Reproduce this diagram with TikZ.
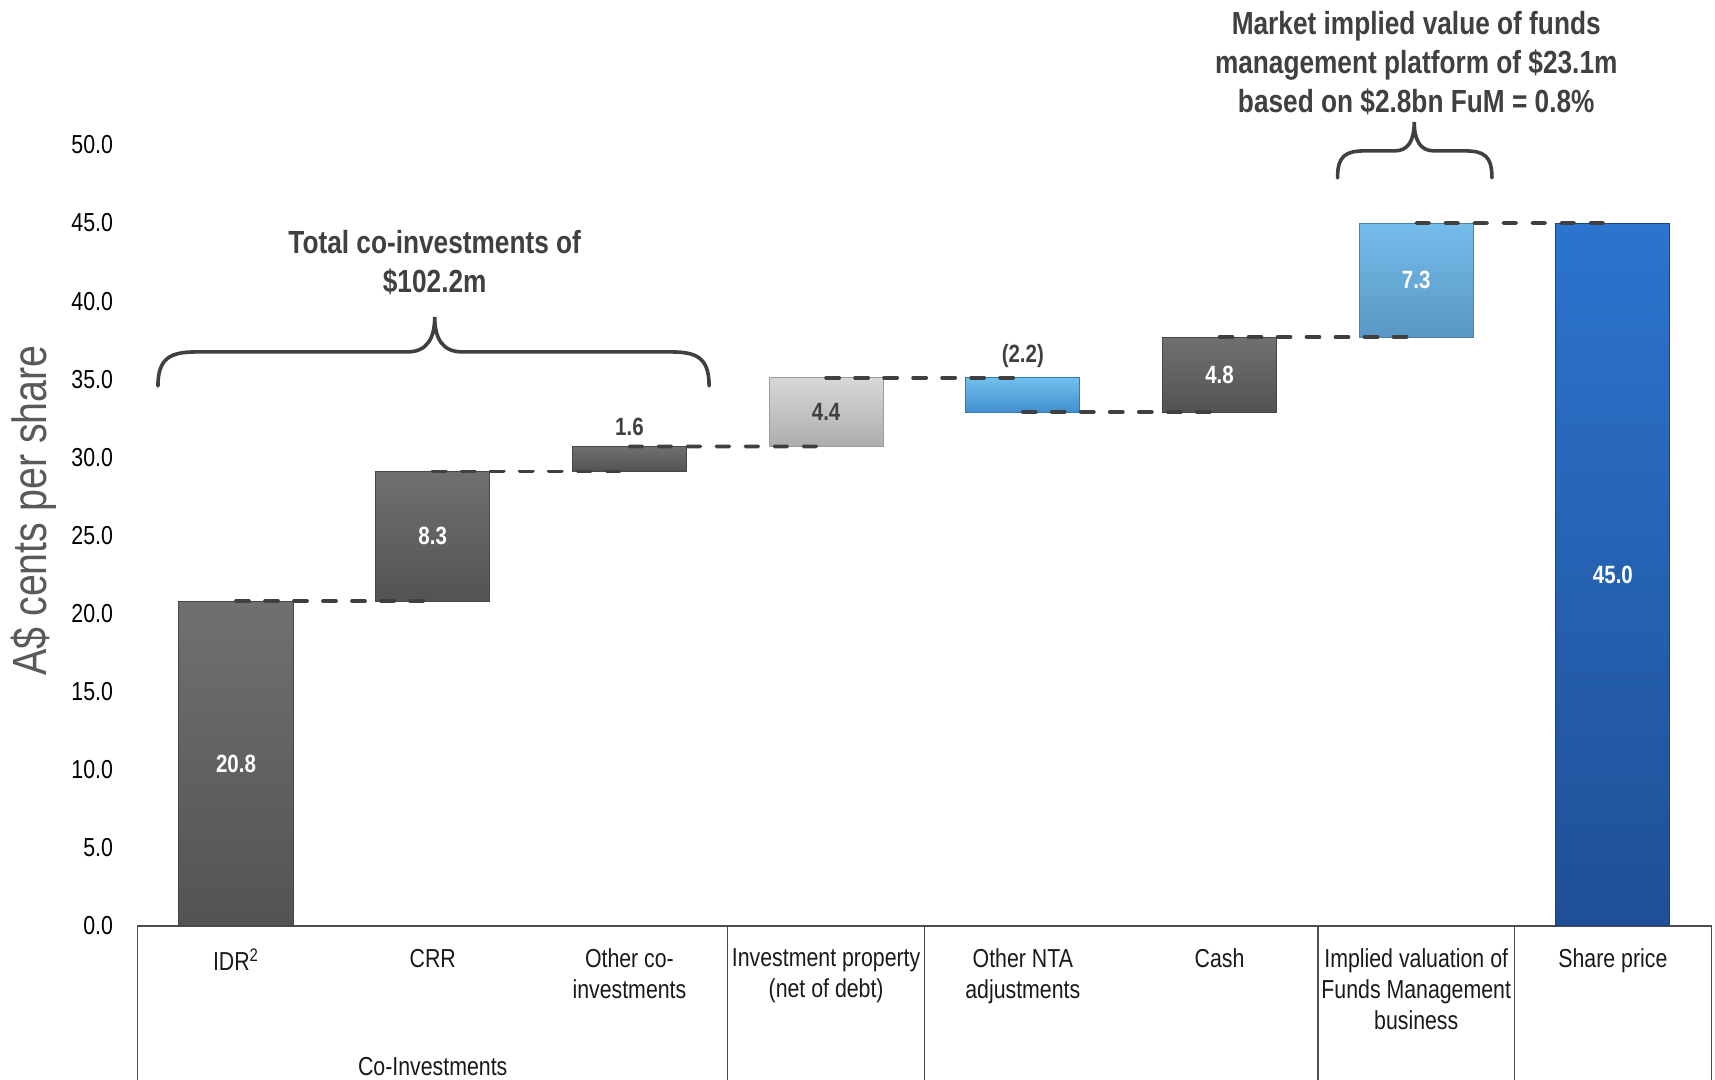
\documentclass[tikz,border=0pt]{standalone}
\usepackage{fontspec}
\setmainfont[FakeStretch=0.82]{Liberation Sans}
\usetikzlibrary{fit,positioning,calc}
\definecolor{wfdark}{HTML}{404040}
\definecolor{wftext}{HTML}{1A1A1A}
\definecolor{wftitle}{HTML}{595959}
\definecolor{wfline}{HTML}{4D4D4D}
\definecolor{greytop}{HTML}{707070}
\definecolor{greybot}{HTML}{535353}
\definecolor{lighttop}{HTML}{D8D8D8}
\definecolor{lightbot}{HTML}{ADADAD}
\definecolor{skytop}{HTML}{72C0EE}
\definecolor{skybot}{HTML}{418FCF}
\definecolor{paletop}{HTML}{74BCEA}
\definecolor{palebot}{HTML}{5A97C5}
\definecolor{bluetop}{HTML}{2C74CE}
\definecolor{bluebot}{HTML}{1F4F96}
\tikzset{
  greybar/.style={inner sep=0pt,outer sep=0pt,draw=greybot!85!black,line width=0.5pt,top color=greytop,bottom color=greybot},
  lightbar/.style={inner sep=0pt,outer sep=0pt,draw=lightbot!90!black,line width=0.5pt,top color=lighttop,bottom color=lightbot},
  skybar/.style={inner sep=0pt,outer sep=0pt,draw=skybot!85!black,line width=0.5pt,top color=skytop,bottom color=skybot},
  palebar/.style={inner sep=0pt,outer sep=0pt,draw=palebot!85!black,line width=0.5pt,top color=paletop,bottom color=palebot},
  bluebar/.style={inner sep=0pt,outer sep=0pt,draw=bluebot!85!black,line width=0.5pt,top color=bluetop,bottom color=bluebot},
  wfdash/.style={draw=wfdark,line width=1.9pt,line cap=round,dash pattern=on 6.5pt off 8pt},
  tabline/.style={draw=wfline,line width=0.7pt},
  ticklbl/.style={anchor=east,inner sep=0pt,text=black,font=\fontsize{13}{15.5}\selectfont},
  catlbl/.style={anchor=north,inner sep=0pt,align=center,text=wftext,font=\fontsize{13}{15.5}\selectfont},
  vallbl/.style={inner sep=1pt,text=white,font=\fontsize{12.5}{15}\selectfont\bfseries},
  valdark/.style={inner sep=1pt,text=wfdark,font=\fontsize{12.5}{15}\selectfont\bfseries},
  notelbl/.style={align=center,inner sep=0pt,text=wfdark,font=\fontsize{16}{19.5}\selectfont\bfseries},
  bracket/.style={draw=wfdark,line width=1.8pt,line cap=round}
}
\begin{document}
\begin{tikzpicture}[x=98.35pt,y=7.81pt]
\useasboundingbox (-1.2,-9.86) rectangle (7.519,59.28);
% category table
\draw[tabline] (-0.5,-9.86) |- (7.5,0) -- (7.5,-9.86);
\foreach \x in {2.5,3.5,5.5,6.5}{\draw[tabline] (\x,0) -- (\x,-9.86);}
% value axis
\foreach \v in {0,5,...,50}{\node[ticklbl] (tick\v) at (-0.624,\v) {\v.0};}
\node[rotate=90,text=wftitle,font=\fontsize{24}{28}\selectfont] (ytitle) at (-1.03,26.6) {A\$ cents per share};
% bars
\foreach \n/\x/\lo/\hi/\s in {idr/0/0/20.8/greybar,crr/1/20.8/29.1/greybar,oth/2/29.1/30.7/greybar,inv/3/30.7/35.1/lightbar,nta/4/32.9/35.1/skybar,cash/5/32.9/37.7/greybar,impl/6/37.7/45.0/palebar,share/7/0/45.0/bluebar}
  {\node[\s,fit={(\x-0.29,\lo) (\x+0.29,\hi)}] (\n) {};}
% step lines
\draw[wfdash] (idr.north) -- (crr.south);
\draw[wfdash] (crr.north) -- (oth.south);
\draw[wfdash] (oth.north) -- (inv.south);
\draw[wfdash] (inv.north) -- (nta.north);
\draw[wfdash] (nta.south) -- (cash.south);
\draw[wfdash] (cash.north) -- (impl.south);
\draw[wfdash] (impl.north) -- (share.north);
% values
\node[vallbl] (vidr) at (idr) {20.8};
\node[vallbl] (vcrr) at (crr) {8.3};
\node[valdark,above=4pt of oth] (voth) {1.6};
\node[valdark] (vinv) at (inv) {4.4};
\node[valdark,above=4pt of nta] (vnta) {(2.2)};
\node[vallbl] (vcash) at (cash) {4.8};
\node[vallbl] (vimpl) at (impl) {7.3};
\node[vallbl] (vshare) at (share) {45.0};
% categories
\node[catlbl] (cidr) at (0,-1.45) {IDR\textsuperscript{2}};
\node[catlbl] (ccrr) at (1,-1.45) {CRR};
\node[catlbl] (coth) at (2,-1.45) {Other co-\\investments};
\node[catlbl] (cinv) at (3,-1.45) {Investment property\\(net of debt)};
\node[catlbl] (cnta) at (4,-1.45) {Other NTA\\adjustments};
\node[catlbl] (ccash) at (5,-1.45) {Cash};
\node[catlbl] (cimpl) at (6,-1.45) {Implied valuation of\\Funds Management\\business};
\node[catlbl] (cshare) at (7,-1.45) {Share price};
\node[text=wftext,inner sep=0pt,font=\fontsize{13}{15.5}\selectfont] (cgroup) at (1,-9.03) {Co-Investments};
% braces and notes
\draw[bracket] (-0.397,34.57) .. controls (-0.397,36.4) and (-0.33,36.75) .. (-0.2,36.75)
  -- (0.87,36.75) .. controls (0.97,36.75) and (1.01,37.6) .. (1.01,38.99)
  .. controls (1.01,37.6) and (1.05,36.75) .. (1.15,36.75)
  -- (2.21,36.75) .. controls (2.34,36.75) and (2.405,36.4) .. (2.405,34.57);
\node[notelbl] (coinv) at (1.01,42.45) {Total co-investments of\\\$102.2m};
\draw[bracket] (5.60,47.89) .. controls (5.60,49.3) and (5.64,49.62) .. (5.74,49.62)
  -- (5.89,49.62) .. controls (5.96,49.62) and (5.99,50.3) .. (5.99,51.47)
  .. controls (5.99,50.3) and (6.02,49.62) .. (6.09,49.62)
  -- (6.245,49.62) .. controls (6.345,49.62) and (6.385,49.3) .. (6.385,47.89);
\node[notelbl] (fmval) at (6.0,55.25) {Market implied value of funds\\management platform of \$23.1m\\based on \$2.8bn FuM = 0.8\%};
\end{tikzpicture}
\end{document}
